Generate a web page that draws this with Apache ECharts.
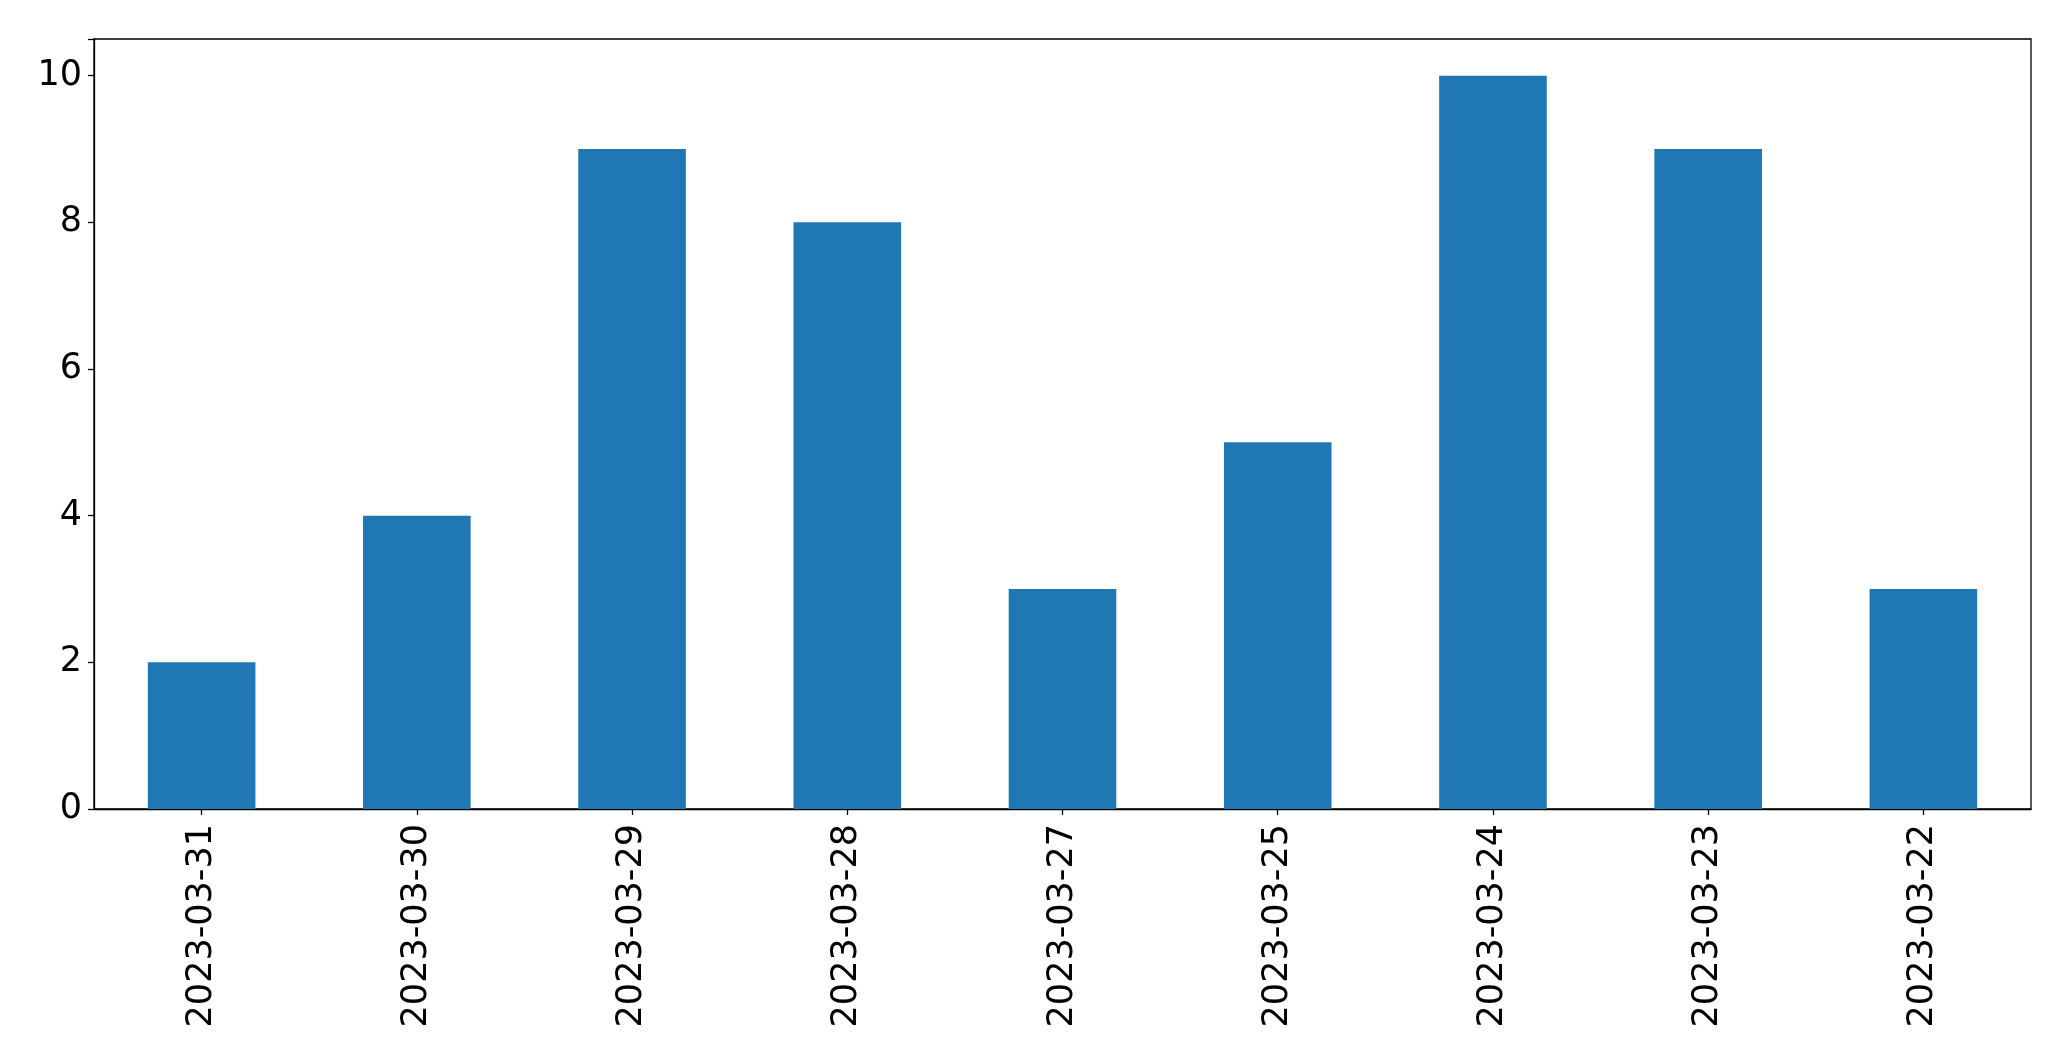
<!DOCTYPE html>
<html><head><meta charset="utf-8">
<script src="https://cdn.jsdelivr.net/npm/echarts@6/dist/echarts.min.js"></script>
<style>html,body{margin:0;padding:0;background:#fff}#c{width:2071px;height:1061px}</style>
</head><body><div id="c"></div>
<script>
const categories = ["2023-03-31","2023-03-30","2023-03-29","2023-03-28","2023-03-27","2023-03-25","2023-03-24","2023-03-23","2023-03-22"];
const values = [2,4,9,8,3,5,10,9,3];
const yTicks = [0,2,4,6,8,10];

const chart = echarts.init(document.getElementById('c'), null, {renderer:'canvas'});
const font = "'DejaVu Sans', sans-serif";
chart.setOption({
  animation:false,
  backgroundColor:'#fff',
  grid:{left:94,right:40,top:39,bottom:252,show:true,borderColor:'#000',borderWidth:1.3,backgroundColor:'transparent'},
  xAxis:{
    type:'category',data:categories,
    axisLine:{show:true,lineStyle:{color:'#000',width:1.3}},
    axisTick:{show:true,alignWithLabel:true,length:6,lineStyle:{color:'#000',width:1.3}},
    axisLabel:{rotate:90,margin:15,color:'#000',fontSize:35,fontFamily:font,interval:0},
    splitLine:{show:false}
  },
  yAxis:{
    type:'value',min:0,max:10.5,interval:2,
    axisLine:{show:true,lineStyle:{color:'#000',width:1.3}},
    axisTick:{show:true,length:6,lineStyle:{color:'#000',width:1.3}},
    axisLabel:{margin:12,color:'#000',fontSize:35,fontFamily:font,
      formatter:function(v){return yTicks.indexOf(v)>=0?String(v):'';}},
    splitLine:{show:false}
  },
  series:[{type:'bar',data:values,barWidth:'50%',itemStyle:{color:'#1f77b4'}}]
});
</script></body></html>
